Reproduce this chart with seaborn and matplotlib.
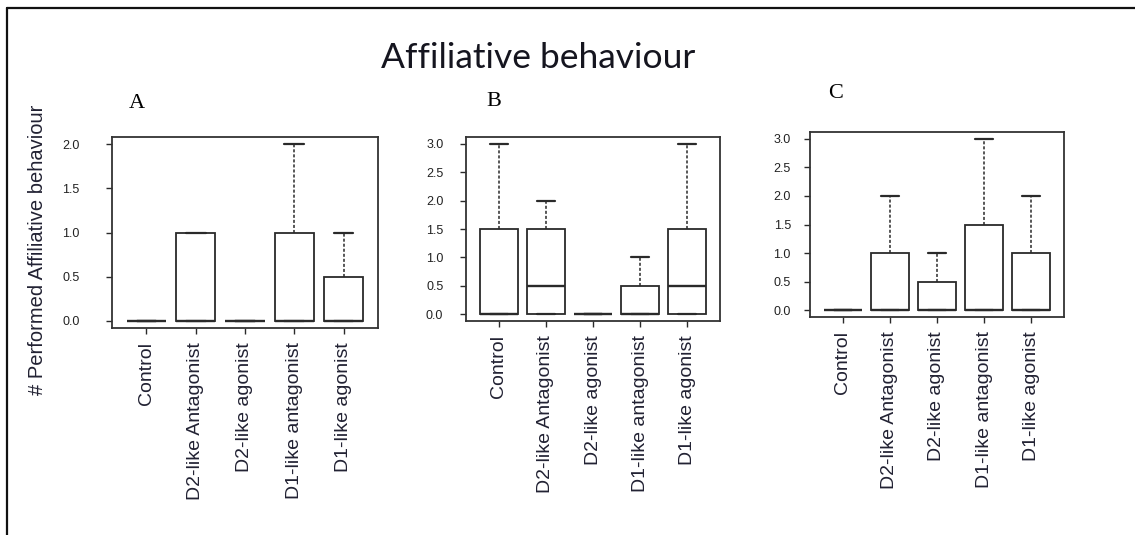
import matplotlib
matplotlib.use("Agg")
import matplotlib.pyplot as plt
from matplotlib.lines import Line2D
import seaborn as sns
import pandas as pd

# ---- data (five-number summaries: min, Q1, median, Q3, max) ----
groups = ["Control", "D2-like Antagonist", "D2-like agonist", "D1-like antagonist", "D1-like agonist"]

panel_a = {
    "Control":            [0, 0, 0, 0, 0],
    "D2-like Antagonist": [0, 0, 0, 1, 1],
    "D2-like agonist":    [0, 0, 0, 0, 0],
    "D1-like antagonist": [0, 0, 0, 1, 2],
    "D1-like agonist":    [0, 0, 0, 0.5, 1],
}
panel_b = {
    "Control":            [0, 0, 0, 1.5, 3],
    "D2-like Antagonist": [0, 0, 0.5, 1.5, 2],
    "D2-like agonist":    [0, 0, 0, 0, 0],
    "D1-like antagonist": [0, 0, 0, 0.5, 1],
    "D1-like agonist":    [0, 0, 0.5, 1.5, 3],
}
panel_c = {
    "Control":            [0, 0, 0, 0, 0],
    "D2-like Antagonist": [0, 0, 0, 1, 2],
    "D2-like agonist":    [0, 0, 0, 0.5, 1],
    "D1-like antagonist": [0, 0, 0, 1.5, 3],
    "D1-like agonist":    [0, 0, 0, 1, 2],
}

title = "Affiliative behaviour"
ylabel = "# Performed Affiliative behaviour"
panel_letters = ["A", "B", "C"]
yticks_a = [0.0, 0.5, 1.0, 1.5, 2.0]
yticks_bc = [0.0, 0.5, 1.0, 1.5, 2.0, 2.5, 3.0]

sns.set_style("white")
plt.rcParams["font.family"] = ["Liberation Sans", "DejaVu Sans"]

W, H = 1135, 535
fig = plt.figure(figsize=(W / 100, H / 100), dpi=100)


def to_long(d):
    rows = []
    for g in groups:
        for v in d[g]:
            rows.append({"group": g, "value": v})
    return pd.DataFrame(rows)


def px_axes(left, right, top, bottom):
    return fig.add_axes([left / W, 1 - bottom / H, (right - left) / W, (bottom - top) / H])


specs = [
    (panel_a, px_axes(112, 378, 137, 328), (-0.08, 2.08), yticks_a, 9, 19),
    (panel_b, px_axes(466, 720, 137, 321), (-0.12, 3.12), yticks_bc, 9, 12),
    (panel_c, px_axes(810, 1064, 132, 317), (-0.12, 3.12), yticks_bc, 9, 9.5),
]

line_col = "#2a2a2a"
for data, ax, ylim, yt, ytfs, ypad in specs:
    df = to_long(data)
    sns.boxplot(
        data=df, x="group", y="value", order=groups, ax=ax,
        color="white", linecolor=line_col, linewidth=1.3, width=0.8,
        whis=(0, 100), showfliers=False,
        whiskerprops=dict(linestyle=(0, (2.0, 1.3)), linewidth=1.1),
        medianprops=dict(linewidth=1.7, color=line_col),
        capprops=dict(linewidth=1.6),
    )
    ax.set_xlim(-0.7, 4.7)
    ax.set_ylim(*ylim)
    ax.set_yticks(yt)
    ax.set_yticklabels([f"{v:.1f}" for v in yt], fontsize=ytfs, color="#222222")
    ax.set_xticks(range(len(groups)))
    ax.set_xticklabels(groups, rotation=90, fontsize=14, color="#222233")
    ax.set_xlabel("")
    ax.set_ylabel("")
    ax.tick_params(axis="y", direction="out", length=4.3, width=1, color=line_col, pad=ypad, left=True)
    ax.tick_params(axis="x", direction="out", length=4.3, width=1, color=line_col, pad=6, bottom=True)
    for s in ax.spines.values():
        s.set_visible(True)
        s.set_color("#333333")
        s.set_linewidth(1.3)

fig.text(538 / W, 1 - 58 / H, title, ha="center", va="center", fontsize=25.5,
         family=["Lato", "DejaVu Sans"], color="#15151f")
fig.text(38 / W, 1 - 250 / H, ylabel, rotation=90, ha="center", va="center", fontsize=14.5,
         color="#222233")
for letter, (x, y) in zip(panel_letters, [(137, 103), (494, 101), (836, 93)]):
    fig.text(x / W, 1 - y / H, letter, ha="center", va="center", fontsize=16,
             family=["Liberation Serif", "DejaVu Serif"], color="black")

# outer frame lines (left and top)
fig.add_artist(Line2D([6.5 / W, 6.5 / W], [0, 1 - 8 / H], transform=fig.transFigure, color="#111111", linewidth=1.6))
fig.add_artist(Line2D([6.5 / W, 1], [1 - 8 / H, 1 - 8 / H], transform=fig.transFigure, color="#111111", linewidth=1.6))

fig.savefig("out.png", dpi=100)
